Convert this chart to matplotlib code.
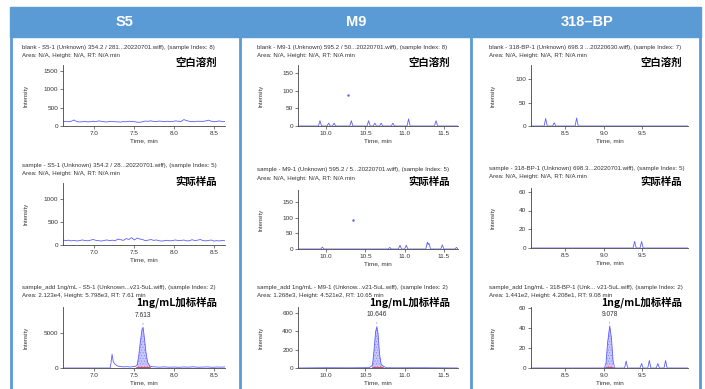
import numpy as np
import matplotlib
matplotlib.use("Agg")
import matplotlib.pyplot as plt

W, H = 705, 389
BLUE = "#5b9bd5"
TRACE = "#5c5cff"
TXT = "#333333"

# ---- data ----
columns = ["S5", "M9", "318–BP"]

s5_blank = [125, 120, 118, 130, 165, 120, 110, 115, 125, 112, 118, 130, 122, 140, 128,
            115, 110, 125, 120, 118, 112, 108, 120, 115, 130, 122, 118, 105, 100, 118,
            135, 128, 142, 125, 120, 135, 128, 120, 130, 118, 125, 140, 130, 122, 175,
            150, 128, 120, 118, 132, 128, 125, 140, 160, 130, 118, 125, 140, 118, 122]
s5_sample = [110, 95, 105, 90, 100, 88, 95, 110, 98, 92, 105, 120, 100, 95, 85,
             100, 110, 95, 105, 92, 130, 115, 100, 140, 120, 160, 110, 150, 130, 118,
             95, 105, 120, 100, 110, 92, 85, 95, 102, 90, 98, 110, 95, 100, 108,
             90, 92, 115, 98, 105, 120, 95, 90, 100, 108, 85, 95, 88, 100, 92]
s5_add_t = [6.61, 7.20, 7.21, 7.225, 7.24, 7.26, 7.29, 7.33, 7.37, 7.41, 7.45, 7.49,
            7.52, 7.54, 7.56, 7.58, 7.60, 7.613, 7.63, 7.65, 7.67, 7.70, 7.73, 7.77,
            7.82, 7.88, 7.94, 8.00, 8.06, 8.12, 8.18, 8.24, 8.30, 8.36, 8.42, 8.48,
            8.54, 8.60, 8.64]
s5_add_y = [0, 0, 600, 1950, 900, 550, 300, 200, 160, 190, 140, 200,
            250, 450, 1800, 3800, 5500, 5800, 4300, 2200, 800, 250, 180, 150,
            120, 160, 110, 140, 100, 150, 120, 170, 110, 130, 160, 100,
            140, 120, 150]

m9_blank_t = [9.64, 9.90, 9.92, 9.94, 10.01, 10.03, 10.05, 10.08, 10.10, 10.12, 10.30,
              10.32, 10.34, 10.52, 10.54, 10.56, 10.60, 10.62, 10.64, 10.68, 10.70,
              10.72, 10.83, 10.85, 10.87, 11.03, 11.05, 11.07, 11.38, 11.40, 11.42, 11.68]
m9_blank_y = [0, 0, 15, 0, 0, 8, 0, 0, 8, 0, 0, 15, 0, 0, 15, 0, 0, 8, 0, 0, 8, 0,
              0, 8, 0, 0, 20, 0, 0, 15, 0, 0]
m9_blank_dot = (10.275, 88)
m9_sample_t = [9.64, 9.93, 9.95, 9.97, 10.79, 10.81, 10.83, 10.92, 10.94, 10.96, 11.00,
               11.02, 11.04, 11.27, 11.29, 11.30, 11.31, 11.33, 11.46, 11.48, 11.50,
               11.64, 11.66, 11.68]
m9_sample_y = [0, 0, 6, 0, 0, 5, 0, 0, 12, 0, 0, 12, 0, 0, 22, 14, 18, 0, 0, 13, 0,
               0, 5, 0]
m9_sample_dot = (10.34, 94)
m9_add_t = [9.64, 10.0, 10.3, 10.55, 10.59, 10.61, 10.63, 10.646, 10.66, 10.68, 10.70,
            10.72, 10.74, 10.76, 10.9, 11.2, 11.68]
m9_add_y = [0, 3, 2, 4, 30, 200, 400, 452, 380, 150, 40, 25, 15, 3, 2, 3, 0]

bp_blank_t = [8.06, 8.23, 8.25, 8.27, 8.34, 8.36, 8.38, 8.63, 8.65, 8.67, 10.09]
bp_blank_y = [0, 0, 16, 0, 0, 7, 0, 0, 17, 0, 0]
bp_sample_t = [8.06, 9.38, 9.40, 9.42, 9.47, 9.49, 9.51, 10.09]
bp_sample_y = [0, 0, 7, 0, 0, 7, 0, 0]
bp_add_t = [8.06, 9.01, 9.03, 9.05, 9.078, 9.10, 9.12, 9.14, 9.27, 9.29, 9.31, 9.47,
            9.49, 9.51, 9.57, 9.59, 9.61, 9.68, 9.70, 9.72, 9.78, 9.80, 9.82, 10.09]
bp_add_y = [0, 0, 5, 25, 42, 30, 8, 0, 0, 7, 0, 0, 4.5, 0, 0, 7.5, 0, 0, 4.5, 0,
            0, 7.5, 0, 0]

xlims = [(6.61, 8.64), (9.64, 11.68), (8.06, 10.09)]
xticks = [[7.0, 7.5, 8.0, 8.5], [10.0, 10.5, 11.0, 11.5], [8.5, 9.0, 9.5]]
ylims = [[1670, 1350, 8700], [172, 188, 667], [130, 64, 61]]
yticks = [[[0, 500, 1000, 1500], [0, 500, 1000], [0, 5000]],
          [[0, 50, 100, 150], [0, 50, 100, 150], [0, 200, 400, 600]],
          [[0, 50, 100], [0, 20, 40, 60], [0, 20, 40, 60]]]

titles = [
    ["blank - S5-1 (Unknown) 354.2 / 281...20220701.wiff), (sample Index: 8)",
     "sample - S5-1 (Unknown) 354.2 / 28...20220701.wiff), (sample Index: 5)",
     "sample_add 1ng/mL - S5-1 (Unknown...v21-5uL.wiff), (sample Index: 2)"],
    ["blank - M9-1 (Unknown) 595.2 / 50...20220701.wiff), (sample Index: 8)",
     "sample - M9-1 (Unknown) 595.2 / 5...20220701.wiff), (sample Index: 5)",
     "sample_add 1ng/mL - M9-1 (Unknow...v21-5uL.wiff), (sample Index: 2)"],
    ["blank - 318-BP-1 (Unknown) 698.3 ...20220630.wiff), (sample Index: 7)",
     "sample - 318-BP-1 (Unknown) 698.3...20220701.wiff), (sample Index: 5)",
     "sample_add 1ng/mL - 318-BP-1 (Unk... v21-5uL.wiff), (sample Index: 2)"],
]
subtitles = [
    ["Area: N/A, Height: N/A, RT: N/A min", "Area: N/A, Height: N/A, RT: N/A min",
     "Area: 2.123e4, Height: 5.798e3, RT: 7.61 min"],
    ["Area: N/A, Height: N/A, RT: N/A min", "Area: N/A, Height: N/A, RT: N/A min",
     "Area: 1.268e3, Height: 4.521e2, RT: 10.65 min"],
    ["Area: N/A, Height: N/A, RT: N/A min", "Area: N/A, Height: N/A, RT: N/A min",
     "Area: 1.441e2, Height: 4.208e1, RT: 9.08 min"],
]
row_tags = ["空白溶剂", "实际样品", "1ng/mL加标样品"]

peak_rt = [7.613, 10.646, 9.078]
peak_top = [5800, 452, 42]
peak_range = [(7.54, 7.70), (10.59, 10.72), (9.03, 9.12)]

# ---- layout in pixels ----
col_x = [(63, 225), (298, 458), (531, 688)]
col_title_x = [22, 257, 489]
col_ylabel_x = [26, 261, 493]
col_tag_right = [217, 450, 682]
col_head_x = [125, 356, 587]
rows_y = [[(65, 126), (183, 245), (307, 368)],
          [(65, 126), (190, 249), (307, 368)],
          [(65, 126), (188, 248), (307, 368)]]
title_y = [[47, 165, 288], [47, 170, 288], [47, 169, 288]]
tag_y = [63, 182, 302]


def fx(p):
    return p / W


def fy(p):
    return 1 - p / H


plt.rcParams["hatch.linewidth"] = 0.4
fig = plt.figure(figsize=(W / 100, H / 100), dpi=100)

# blue header band and column frames
fig.patches.append(plt.Rectangle((fx(10), fy(37)), (701 - 10) / W, 30 / H,
                                 transform=fig.transFigure, color=BLUE, zorder=0))
for xv in [11, 240, 471, 700]:
    fig.add_artist(plt.Line2D([fx(xv), fx(xv)], [fy(37), 0], transform=fig.transFigure,
                              color=BLUE, lw=2))
for c, name in enumerate(columns):
    fig.text(fx(col_head_x[c]), fy(22), name, ha="center", va="center", color="white",
             fontsize=10.5, fontweight="bold", family="Liberation Sans")

traces = [
    [(np.linspace(6.61, 8.64, len(s5_blank)), s5_blank),
     (np.linspace(6.61, 8.64, len(s5_sample)), s5_sample),
     (s5_add_t, s5_add_y)],
    [(m9_blank_t, m9_blank_y), (m9_sample_t, m9_sample_y), (m9_add_t, m9_add_y)],
    [(bp_blank_t, bp_blank_y), (bp_sample_t, bp_sample_y), (bp_add_t, bp_add_y)],
]
dots = {(1, 0): m9_blank_dot, (1, 1): m9_sample_dot}

for c in range(3):
    for r in range(3):
        top, bot = rows_y[c][r]
        left, right = col_x[c]
        ax = fig.add_axes([fx(left), fy(bot), (right - left) / W, (bot - top) / H])
        t, y = traces[c][r]
        t = np.asarray(t, float)
        y = np.asarray(y, float)
        ax.plot(t, y, color=TRACE, lw=0.6)
        if (c, r) in dots:
            ax.plot(*dots[(c, r)], ".", color=TRACE, ms=1.5)
        if r == 2:
            a, b = peak_range[c]
            m = (t >= a) & (t <= b)
            ax.fill_between(t[m], 0, y[m], facecolor="#c9c9ff", edgecolor="#7f7fff",
                            hatch="......", lw=0)
            ax.plot([a, b], [0, 0], color="#e03030", lw=1.2, zorder=3)
            ax.annotate("", xy=(peak_rt[c], peak_top[c]), xytext=(0, 5),
                        textcoords="offset points",
                        arrowprops=dict(arrowstyle="-", color="#555555", lw=0.4,
                                        linestyle=(0, (1, 1))))
            ax.annotate(f"{peak_rt[c]}", xy=(peak_rt[c], peak_top[c]), xytext=(0, 6),
                        textcoords="offset points", ha="center", va="bottom",
                        fontsize=4.8, color=TXT, family="Liberation Sans")
        ax.set_xlim(*xlims[c])
        ax.set_ylim(0, ylims[c][r])
        ax.set_xticks(xticks[c])
        ax.set_xticklabels([f"{v:.1f}" for v in xticks[c]])
        ax.set_yticks(yticks[c][r])
        for s in ["top", "right"]:
            ax.spines[s].set_visible(False)
        for s in ["left", "bottom"]:
            ax.spines[s].set_color("#444444")
            ax.spines[s].set_linewidth(0.6)
        ax.tick_params(labelsize=4.6, length=2, width=0.5, pad=1.5, colors="#444444",
                       labelcolor=TXT)
        for lab in ax.get_xticklabels() + ax.get_yticklabels():
            lab.set_family("Liberation Sans")
        ax.set_xlabel("Time, min", fontsize=4.6, color=TXT, labelpad=2,
                      family="Liberation Sans")
        fig.text(fx(col_ylabel_x[c]), fy((top + bot) / 2), "Intensity", rotation=90,
                 ha="center", va="center", fontsize=4.2, color=TXT,
                 family="Liberation Sans")
        ty = title_y[c][r]
        fig.text(fx(col_title_x[c]), fy(ty), titles[c][r], ha="left", va="center",
                 fontsize=4.4, color=TXT, family="Liberation Sans")
        fig.text(fx(col_title_x[c]), fy(ty + 8), subtitles[c][r], ha="left",
                 va="center", fontsize=4.4, color=TXT, family="Liberation Sans")
        fig.text(fx(col_tag_right[c]), fy(tag_y[r]), row_tags[r], ha="right",
                 va="center", fontsize=7.5, fontweight="bold", color="black",
                 family=["Noto Sans CJK SC", "DejaVu Sans"])

fig.savefig("out.png", dpi=100)
